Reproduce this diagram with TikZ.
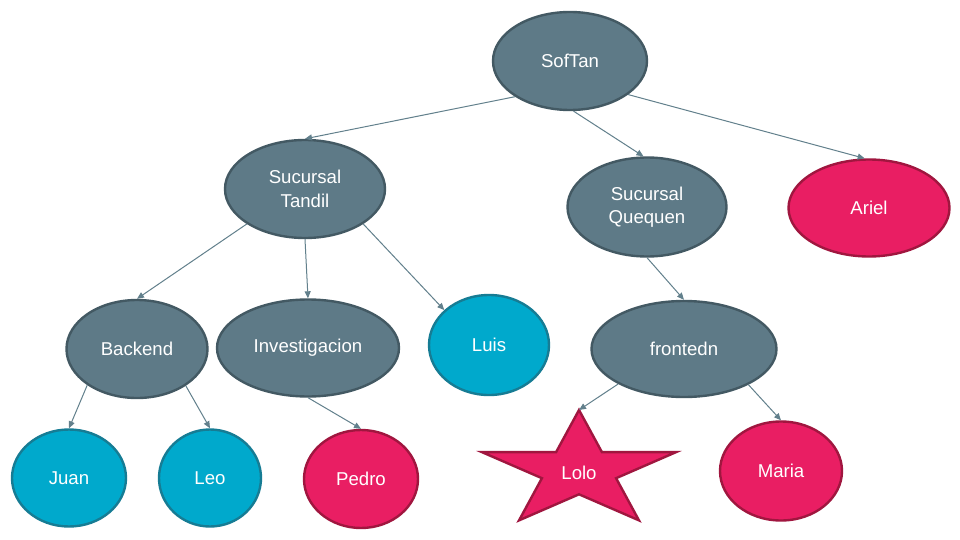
\documentclass[tikz,border=0pt]{standalone}
\usepackage{fontspec}
\setmainfont{Liberation Sans}
\usetikzlibrary{shapes.geometric,arrows.meta,calc}
\definecolor{slatefill}{HTML}{5E7A87}
\definecolor{slateline}{HTML}{435963}
\definecolor{cyanfill}{HTML}{00A9CC}
\definecolor{cyanline}{HTML}{167C94}
\definecolor{pinkfill}{HTML}{E91E63}
\definecolor{pinkline}{HTML}{A0163F}
\definecolor{edgecol}{HTML}{62808C}
\tikzset{
  oval/.style={ellipse, inner sep=0pt, line width=2.4pt, text=white, align=center,
    font=\fontsize{18.6}{23.5}\selectfont},
  slatenode/.style={oval, fill=slatefill, draw=slateline},
  cyannode/.style={oval, fill=cyanfill, draw=cyanline},
  pinknode/.style={oval, fill=pinkfill, draw=pinkline},
  link/.style={draw=edgecol, line width=1pt, -{Triangle[length=7pt,width=6pt]}},
  starlabel/.style={text=white, font=\fontsize{18.6}{23.5}\selectfont, inner sep=0pt},
  starshape/.style={fill=pinkfill, draw=pinkline, line width=2.4pt, line join=miter}
}
\begin{document}
\begin{tikzpicture}[x=1pt,y=-1pt]
\useasboundingbox[fill=white] (0,0) rectangle (960,540);
% nodes
\node[slatenode, minimum width=154pt, minimum height=98pt] (softan) at (570,61) {SofTan};
\node[slatenode, minimum width=160pt, minimum height=98pt] (tandil) at (305,189) {Sucursal\\Tandil};
\node[slatenode, minimum width=159pt, minimum height=99pt] (quequen) at (647,207) {Sucursal\\Quequen};
\node[pinknode, minimum width=161pt, minimum height=97pt] (ariel) at (869,208) {Ariel};
\node[slatenode, minimum width=141pt, minimum height=98pt] (backend) at (137,349) {Backend};
\node[slatenode, minimum width=182pt, minimum height=97pt] (invest) at (308,348) {Investigacion};
\node[cyannode, minimum width=120pt, minimum height=100pt] (luis) at (489,345) {Luis};
\node[slatenode, minimum width=185pt, minimum height=96pt] (frontedn) at (684,349) {frontedn};
\node[cyannode, minimum width=114pt, minimum height=97pt] (juan) at (69,478) {Juan};
\node[cyannode, minimum width=102pt, minimum height=97pt] (leo) at (210,478) {Leo};
\node[pinknode, minimum width=114pt, minimum height=98pt] (pedro) at (361,479) {Pedro};
\node[pinknode, minimum width=122pt, minimum height=99pt] (maria) at (781,471) {Maria};
% star
\coordinate (lolocenter) at (579,471);
\coordinate (lolotop) at (579,410);
\draw[starshape, shift={(lolocenter)}]
  (90:102pt and 61pt) -- (126:39pt and 23.3pt) --
  (162:102pt and 61pt) -- (198:39pt and 23.3pt) --
  (234:102pt and 61pt) -- (270:39pt and 23.3pt) --
  (306:102pt and 61pt) -- (342:39pt and 23.3pt) --
  (18:102pt and 61pt) -- (54:39pt and 23.3pt) -- cycle;
\node[starlabel] (lolo) at ([yshift=-1.5pt]lolocenter) {Lolo};
% connectors
\draw[link] (softan.213) -- (tandil.north);
\draw[link] (softan.274) -- (quequen.94);
\draw[link] (softan.330) -- (ariel.95);
\draw[link] (tandil.211) -- (backend.north);
\draw[link] (tandil.south) -- (invest.north);
\draw[link] (tandil.329) -- (luis.142);
\draw[link] (quequen.south) -- (frontedn.north);
\draw[link] (backend.216) -- (juan.north);
\draw[link] (backend.323) -- (leo.north);
\draw[link] (invest.south) -- (pedro.north);
\draw[link] (frontedn.208) -- (lolotop);
\draw[link] (frontedn.331) -- (maria.north);
\end{tikzpicture}
\end{document}
